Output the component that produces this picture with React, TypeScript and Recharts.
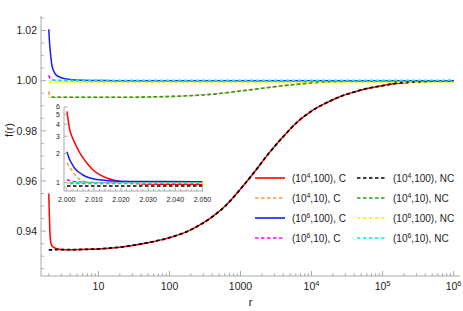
import React from "react";
import { LineChart, Line, XAxis, YAxis, Legend } from "recharts";

const FONT = '"Liberation Sans", Arial, sans-serif';
const FRAME = "#a8a8a8";
const INK = "#222";

// main panel, sampled r values
const rMain = [2, 2.03, 2.07, 2.12, 2.2, 2.35, 2.6, 3, 4, 6, 10, 20, 30, 50, 100, 160, 250, 400, 630, 1000, 1600, 2500, 4000, 6300, 10000, 16000, 25000, 40000, 63000, 100000, 160000, 250000, 400000, 630000, 1000000];

const c4_100 = [0.955, 0.948, 0.94, 0.936, 0.9343, 0.9335, 0.933, 0.9327, 0.9326, 0.9327, 0.9329, 0.9336, 0.9343, 0.9354, 0.9374, 0.9393, 0.942, 0.9457, 0.9504, 0.9568, 0.9639, 0.971, 0.9777, 0.9835, 0.9879, 0.9911, 0.9936, 0.9955, 0.997, 0.998, 0.999, 0.9994, 0.9997, 0.9999, 1.0];
const c4_10 = [0.9957, 0.9945, 0.9938, 0.9935, 0.9934, 0.9934, 0.9934, 0.9934, 0.9934, 0.9934, 0.9934, 0.9934, 0.9934, 0.9935, 0.9937, 0.9939, 0.9942, 0.9946, 0.9952, 0.9959, 0.9966, 0.9973, 0.998, 0.9986, 0.9991, 0.9995, 0.9997, 0.9999, 1.0, 1.0, 1.0, 1.0, 1.0, 1.0, 1.0];
const c6_100 = [1.0205, 1.017, 1.0135, 1.0105, 1.0065, 1.0038, 1.002, 1.0012, 1.0005, 1.0002, 1.0001, 1.0, 1.0, 1.0, 1.0, 1.0, 1.0, 1.0, 1.0, 1.0, 1.0, 1.0, 1.0, 1.0, 1.0, 1.0, 1.0, 1.0, 1.0, 1.0, 1.0, 1.0, 1.0, 1.0, 1.0];
const c6_10 = [1.0022, 1.0016, 1.0011, 1.0007, 1.0004, 1.0002, 1.0001, 1.0, 1.0, 1.0, 1.0, 1.0, 1.0, 1.0, 1.0, 1.0, 1.0, 1.0, 1.0, 1.0, 1.0, 1.0, 1.0, 1.0, 1.0, 1.0, 1.0, 1.0, 1.0, 1.0, 1.0, 1.0, 1.0, 1.0, 1.0];
const nc4_100 = [0.9325, 0.9325, 0.9325, 0.9325, 0.9325, 0.9326, 0.9326, 0.9326, 0.9326, 0.9327, 0.9329, 0.9336, 0.9343, 0.9354, 0.9374, 0.9393, 0.942, 0.9457, 0.9504, 0.9568, 0.9639, 0.971, 0.9777, 0.9835, 0.9879, 0.9911, 0.9936, 0.9955, 0.997, 0.998, 0.999, 0.9994, 0.9997, 0.9999, 1.0];
const nc4_10 = [0.9934, 0.9934, 0.9934, 0.9934, 0.9934, 0.9934, 0.9934, 0.9934, 0.9934, 0.9934, 0.9934, 0.9934, 0.9934, 0.9935, 0.9937, 0.9939, 0.9942, 0.9946, 0.9952, 0.9959, 0.9966, 0.9973, 0.998, 0.9986, 0.9991, 0.9995, 0.9997, 0.9999, 1.0, 1.0, 1.0, 1.0, 1.0, 1.0, 1.0];
const nc6_100 = [0.9994, 0.9994, 0.9994, 0.9994, 0.9994, 0.9994, 0.9994, 0.9994, 0.9994, 0.9994, 0.9994, 0.9994, 0.9994, 0.9994, 0.9994, 0.9994, 0.9994, 0.9994, 0.9994, 0.9994, 0.9994, 0.9994, 0.9994, 0.9994, 0.9994, 0.9994, 0.9994, 0.9994, 0.9994, 0.9994, 0.9994, 0.9994, 0.9994, 0.9994, 0.9994];
const nc6_10 = [1.0002, 1.0002, 1.0002, 1.0002, 1.0002, 1.0002, 1.0002, 1.0002, 1.0002, 1.0002, 1.0002, 1.0002, 1.0002, 1.0002, 1.0002, 1.0002, 1.0002, 1.0002, 1.0002, 1.0002, 1.0002, 1.0002, 1.0002, 1.0002, 1.0002, 1.0002, 1.0002, 1.0002, 1.0002, 1.0002, 1.0002, 1.0002, 1.0002, 1.0002, 1.0002];

// inset, zoom near r = 2
const rInset = [2.0001, 2.0011, 2.002, 2.003, 2.0045, 2.006, 2.008, 2.0097, 2.012, 2.015, 2.02, 2.027, 2.035, 2.05];
const inC4_100 = [5.4, 3.5, 2.95, 2.55, 2.1, 1.8, 1.52, 1.35, 1.22, 1.11, 1.02, 0.975, 0.965, 0.96];
const inC4_10 = [1.6, 1.45, 1.33, 1.22, 1.1, 1.04, 1.01, 1.0, 0.995, 0.993, 0.99, 0.99, 0.99, 0.99];
const inC6_100 = [2.08, 1.72, 1.55, 1.4, 1.28, 1.2, 1.13, 1.1, 1.07, 1.05, 1.035, 1.03, 1.027, 1.025];
const inC6_10 = [1.08, 1.05, 1.035, 1.025, 1.015, 1.01, 1.006, 1.003, 1.001, 1.0, 1.0, 1.0, 1.0, 1.0];
const inNC4_100 = [0.925, 0.925, 0.925, 0.925, 0.925, 0.925, 0.925, 0.925, 0.925, 0.925, 0.925, 0.925, 0.925, 0.925];
const inNC4_10 = [0.982, 0.982, 0.982, 0.982, 0.982, 0.982, 0.982, 0.982, 0.982, 0.982, 0.982, 0.982, 0.982, 0.982];
const inNC6_100 = [0.99, 0.99, 0.99, 0.99, 0.99, 0.99, 0.99, 0.99, 0.99, 0.99, 0.99, 0.99, 0.99, 0.99];
const inNC6_10 = [1.0, 1.0, 1.0, 1.0, 1.0, 1.0, 1.0, 1.0, 1.0, 1.0, 1.0, 1.0, 1.0, 1.0];

// ticks
const xMajor = [10, 100, 1000, 10000, 100000, 1000000];
const xMinor = [2, 3, 4, 5, 6, 7, 8, 9, 20, 30, 40, 50, 60, 70, 80, 90, 200, 300, 400, 500, 600, 700, 800, 900, 2000, 3000, 4000, 5000, 6000, 7000, 8000, 9000, 20000, 30000, 40000, 50000, 60000, 70000, 80000, 90000, 200000, 300000, 400000, 500000, 600000, 700000, 800000, 900000];
const yMajor = [0.94, 0.96, 0.98, 1.0, 1.02];
const yMinor = [0.925, 0.93, 0.935, 0.945, 0.95, 0.955, 0.965, 0.97, 0.975, 0.985, 0.99, 0.995, 1.005, 1.01, 1.015, 1.025];
const inXMajor = [2.0, 2.01, 2.02, 2.03, 2.04, 2.05];
const inXMinor = [2.002, 2.004, 2.006, 2.008, 2.012, 2.014, 2.016, 2.018, 2.022, 2.024, 2.026, 2.028, 2.032, 2.034, 2.036, 2.038, 2.042, 2.044, 2.046, 2.048];
const inYMajor = [1, 2, 3, 4, 5, 6];
const inYMinor = [0.9];

const DASH = "3.5 2.5";
const series = [
  { key: "c4_100", exp: "4", p: "100", kind: "C", color: "#ff0000", dash: undefined, off: 0, w: 1.5 },
  { key: "c4_10", exp: "4", p: "10", kind: "C", color: "#f59a45", dash: DASH, off: 0, w: 1.6 },
  { key: "c6_100", exp: "6", p: "100", kind: "C", color: "#1a1aff", dash: undefined, off: 0, w: 1.5 },
  { key: "c6_10", exp: "6", p: "10", kind: "C", color: "#ff00ff", dash: DASH, off: 0, w: 1.6 },
  { key: "nc4_100", exp: "4", p: "100", kind: "NC", color: "#000000", dash: DASH, off: 0, w: 1.8 },
  { key: "nc4_10", exp: "4", p: "10", kind: "NC", color: "#22a022", dash: DASH, off: 3, w: 1.6 },
  { key: "nc6_100", exp: "6", p: "100", kind: "NC", color: "#f2f200", dash: DASH, off: 0, w: 1.6 },
  { key: "nc6_10", exp: "6", p: "10", kind: "NC", color: "#00f0f0", dash: DASH, off: 3, w: 1.6 },
];

const mainData = rMain.map((r, i) => ({
  r,
  c4_100: c4_100[i],
  c4_10: c4_10[i],
  c6_100: c6_100[i],
  c6_10: c6_10[i],
  nc4_100: nc4_100[i],
  nc4_10: nc4_10[i],
  nc6_100: nc6_100[i],
  nc6_10: nc6_10[i],
}));

const insetData = rInset.map((r, i) => ({
  r,
  c4_100: inC4_100[i],
  c4_10: inC4_10[i],
  c6_100: inC6_100[i],
  c6_10: inC6_10[i],
  nc4_100: inNC4_100[i],
  nc4_10: inNC4_10[i],
  nc6_100: inNC6_100[i],
  nc6_10: inNC6_10[i],
}));

const X_DOMAIN = [1.554, 1230000];
const Y_DOMAIN = [0.9221, 1.0258];
const IN_X_DOMAIN = [1.999, 2.0502];
const IN_Y_DOMAIN = [0.822, 6];

function XTick({ x, y, payload, side, majors, fs, len, labelOf, gap }: any) {
  const v = payload.value;
  const major = majors.includes(v);
  const l = major ? len : len * 0.55;
  const dir = side === "bottom" ? -1 : 1;
  return (
    <g>
      <line x1={x} x2={x} y1={y} y2={y + dir * l} stroke={FRAME} strokeWidth={1} />
      {major && side === "bottom" && (
        <text x={x} y={y + gap} textAnchor="middle" fontSize={fs} fill={INK} fontFamily={FONT}>
          {labelOf(v)}
        </text>
      )}
    </g>
  );
}

function YTick({ x, y, payload, side, majors, fs, len, labelOf }: any) {
  const v = payload.value;
  const major = majors.includes(v);
  const l = major ? len : len * 0.55;
  const dir = side === "left" ? 1 : -1;
  return (
    <g>
      <line x1={x} x2={x + dir * l} y1={y} y2={y} stroke={FRAME} strokeWidth={1} />
      {major && side === "left" && (
        <text x={x - 4} y={y} dy="0.35em" textAnchor="end" fontSize={fs} fill={INK} fontFamily={FONT}>
          {labelOf(v)}
        </text>
      )}
    </g>
  );
}

const mainXLabel = (v: number) => {
  const e = Math.round(Math.log10(v));
  if (e <= 3) return String(v);
  return (
    <>
      <tspan>10</tspan>
      <tspan dy={-4} fontSize={7.5}>{e}</tspan>
    </>
  );
};

function LegendBox() {
  const cols = [series.filter((s) => s.kind === "C"), series.filter((s) => s.kind === "NC")];
  return (
    <div style={{ display: "flex", fontFamily: FONT, fontSize: 10, color: INK }}>
      {cols.map((col, ci) => (
        <div key={ci} style={{ width: ci === 0 ? 102 : 105 }}>
          {col.map((s) => (
            <div key={s.key} style={{ height: 20, display: "flex", alignItems: "center", whiteSpace: "nowrap" }}>
              <svg width={ci === 0 ? 30 : 28} height={4} style={{ display: "block" }}>
                <line x1={0} x2={30} y1={2} y2={2} stroke={s.color} strokeWidth={1.6} strokeDasharray={s.dash} />
              </svg>
              <span style={{ marginLeft: ci === 0 ? 7 : 8 }}>
                (10<span style={{ fontSize: 7, verticalAlign: "super", lineHeight: 0 }}>{s.exp}</span>,{s.p}), {s.kind}
              </span>
            </div>
          ))}
        </div>
      ))}
    </div>
  );
}

function renderLines(width: number) {
  return series.map((s) => (
    <Line
      key={s.key}
      xAxisId="b"
      yAxisId="l"
      type="monotone"
      dataKey={s.key}
      stroke={s.color}
      strokeWidth={width === 0 ? s.w : width}
      strokeDasharray={s.dash}
      strokeDashoffset={s.off}
      dot={false}
      activeDot={false}
      isAnimationActive={false}
    />
  ));
}

function MainChart() {
  const xTicks = [...xMinor, ...xMajor];
  const yTicks = [...yMinor, ...yMajor];
  const tickCommon = { majors: xMajor, fs: 10.5, len: 5, labelOf: mainXLabel, gap: 14 };
  const yCommon = { majors: yMajor, fs: 10.5, len: 5, labelOf: (v: number) => v.toFixed(2) };
  return (
    <LineChart width={463} height={311} data={mainData} margin={{ top: 16, right: 3, bottom: 0, left: 0 }}>
      <XAxis
        xAxisId="b"
        dataKey="r"
        type="number"
        scale="log"
        domain={X_DOMAIN}
        allowDataOverflow
        ticks={xTicks}
        interval={0}
        tickSize={0}
        tickMargin={0}
        tickLine={false}
        height={35}
        stroke={FRAME}
        tick={(p: any) => <XTick {...p} side="bottom" {...tickCommon} />}
        label={() => (
          <text x={250.5} y={306} textAnchor="middle" fontSize={11} fill={INK} fontFamily={FONT}>
            r
          </text>
        )}
      />
      <XAxis
        xAxisId="t"
        orientation="top"
        dataKey="r"
        type="number"
        scale="log"
        domain={X_DOMAIN}
        allowDataOverflow
        ticks={xTicks}
        interval={0}
        tickSize={0}
        tickMargin={0}
        tickLine={false}
        height={0}
        stroke={FRAME}
        tick={(p: any) => <XTick {...p} side="top" {...tickCommon} />}
        label={() => (
          <text x={250.5} y={12} textAnchor="middle" fontSize={12.8} fill="#111" fontFamily={FONT}>
            Scaled Einasto
          </text>
        )}
      />
      <YAxis
        yAxisId="l"
        type="number"
        domain={Y_DOMAIN}
        allowDataOverflow
        ticks={yTicks}
        interval={0}
        tickSize={0}
        tickMargin={0}
        tickLine={false}
        width={41}
        stroke={FRAME}
        tick={(p: any) => <YTick {...p} side="left" {...yCommon} />}
        label={() => (
          <text x={13} y={130} transform="rotate(-90 13 130)" textAnchor="middle" fontSize={11} fill={INK} fontFamily={FONT}>
            f(r)
          </text>
        )}
      />
      <YAxis
        yAxisId="r"
        orientation="right"
        type="number"
        domain={Y_DOMAIN}
        allowDataOverflow
        ticks={yTicks}
        interval={0}
        tickSize={0}
        tickMargin={0}
        tickLine={false}
        width={0}
        stroke={FRAME}
        tick={(p: any) => <YTick {...p} side="right" {...yCommon} />}
      />
      {renderLines(0)}
      <Legend
        layout="horizontal"
        verticalAlign="middle"
        align="center"
        wrapperStyle={{ left: 255, top: 168, width: 210 }}
        content={() => <LegendBox />}
      />
    </LineChart>
  );
}

function InsetChart() {
  const xTicks = [...inXMinor, ...inXMajor];
  const yTicks = [...inYMinor, ...inYMajor];
  const xc = { majors: inXMajor, fs: 7, len: 3.5, labelOf: (v: number) => v.toFixed(3), gap: 11 };
  const yc = { majors: inYMajor, fs: 7, len: 3.5, labelOf: (v: number) => String(v) };
  return (
    <LineChart width={172} height={108} data={insetData} margin={{ top: 7, right: 14, bottom: 0, left: 0 }}>
      <XAxis xAxisId="b" dataKey="r" type="number" domain={IN_X_DOMAIN} allowDataOverflow ticks={xTicks} interval={0} tickSize={0} tickMargin={0} tickLine={false} height={17} stroke={FRAME} tick={(p: any) => <XTick {...p} side="bottom" {...xc} />} />
      <XAxis xAxisId="t" orientation="top" dataKey="r" type="number" domain={IN_X_DOMAIN} allowDataOverflow ticks={xTicks} interval={0} tickSize={0} tickMargin={0} tickLine={false} height={0} stroke={FRAME} tick={(p: any) => <XTick {...p} side="top" {...xc} />} />
      <YAxis yAxisId="l" type="number" scale="log" domain={IN_Y_DOMAIN} allowDataOverflow ticks={yTicks} interval={0} tickSize={0} tickMargin={0} tickLine={false} width={19} stroke={FRAME} tick={(p: any) => <YTick {...p} side="left" {...yc} />} />
      <YAxis yAxisId="r" orientation="right" type="number" scale="log" domain={IN_Y_DOMAIN} allowDataOverflow ticks={yTicks} interval={0} tickSize={0} tickMargin={0} tickLine={false} width={0} stroke={FRAME} tick={(p: any) => <YTick {...p} side="right" {...yc} />} />
      {renderLines(1.5)}
    </LineChart>
  );
}

export default function App() {
  return (
    <div style={{ position: "absolute", left: 0, top: 0, width: 463, height: 311, background: "#fff", fontFamily: FONT }}>
      <MainChart />
      <div style={{ position: "absolute", left: 45, top: 100, width: 172, height: 108 }}>
        <div style={{ position: "absolute", left: 19, top: 7, width: 139, height: 84, background: "#fff" }} />
        <div style={{ position: "absolute", left: 0, top: 0 }}>
          <InsetChart />
        </div>
      </div>
    </div>
  );
}
